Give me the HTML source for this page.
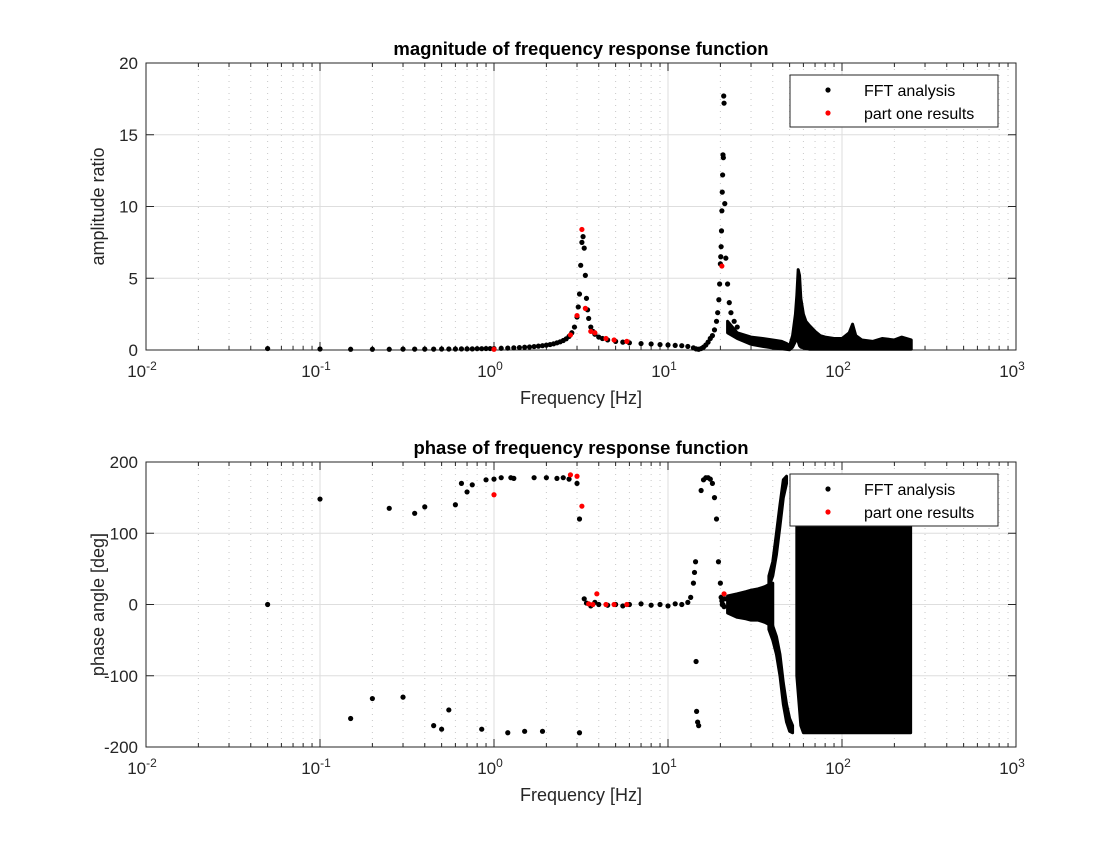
<!DOCTYPE html>
<html><head><meta charset="utf-8"><style>
body{margin:0;background:#fff;width:1120px;height:840px;overflow:hidden;font-family:"Liberation Sans",sans-serif}
svg text{font-family:"Liberation Sans",sans-serif}
</style></head><body>
<svg id="c" width="1120" height="840"></svg>
<script>
// ---- data ----
const magFftFreq=[0.05,0.1,0.15,0.2,0.25,0.3,0.35,0.4,0.45,0.5,0.55,0.6,0.65,0.7,0.75,0.8,0.85,0.9,0.95,1.0,1.1,1.2,1.3,1.4,1.5,1.6,1.7,1.8,1.9,2.0,2.1,2.2,2.3,2.4,2.5,2.6,2.7,2.8,2.9,3.0,3.05,3.1,3.15,3.2,3.25,3.3,3.35,3.4,3.45,3.5,3.6,3.7,3.8,4.0,4.2,4.5,5,5.5,6,7,8,9,10,11,12,13,14,14.5,15,15.5,16,16.5,17,17.5,18,18.5,19,19.3,19.6,19.8,20,20.1,20.2,20.3,20.4,20.5,20.6,20.7,20.8,20.9,21,21.2,21.5,22,22.5,23,24,25];
const magFftVal=[0.1,0.07,0.05,0.05,0.05,0.06,0.06,0.06,0.06,0.07,0.07,0.07,0.08,0.08,0.08,0.09,0.09,0.1,0.1,0.1,0.12,0.13,0.15,0.17,0.19,0.21,0.24,0.27,0.3,0.34,0.38,0.43,0.5,0.57,0.66,0.78,0.95,1.2,1.6,2.3,3.0,3.9,5.9,7.5,7.9,7.1,5.2,3.6,2.8,2.2,1.6,1.3,1.1,0.9,0.8,0.7,0.6,0.55,0.5,0.45,0.42,0.38,0.35,0.32,0.3,0.25,0.15,0.08,0.05,0.1,0.2,0.35,0.55,0.8,1.0,1.4,2.0,2.6,3.5,4.6,6.0,6.5,7.2,8.3,9.7,11,12.2,13.6,13.4,17.7,17.2,10.2,6.4,4.6,3.3,2.6,2.0,1.6];
const magRedFreq=[1.0,2.75,3.0,3.2,3.35,3.6,3.8,4.4,4.9,5.8,20.4];
const magRedVal=[0.05,1.05,2.4,8.4,2.9,1.3,1.2,0.8,0.7,0.6,5.85];
// noisy-region envelope (magnitude)
const magBandFreq=[22,25,30,35,40,45,48,50,52,54,55,56,57,58,60,62,65,70,75,80,90,100,110,115,120,130,150,170,200,220,250];
const magBandLow=[1.2,0.8,0.4,0.25,0.15,0.08,0.04,0.02,0.2,0.6,0.9,0.6,0.3,0.2,0.15,0.1,0.05,0.05,0.05,0.05,0.05,0.05,0.05,0.05,0.05,0.05,0.05,0.05,0.05,0.05,0.05];
const magBandHigh=[2.0,1.2,0.9,0.8,0.7,0.6,0.45,0.3,1.0,2.5,3.8,5.6,5.2,3.6,2.5,2.0,1.7,1.3,1.0,0.9,0.8,0.8,1.2,1.8,1.0,0.7,0.6,0.8,0.7,0.9,0.7];
const phFftFreq=[0.05,0.1,0.15,0.2,0.25,0.3,0.35,0.4,0.45,0.5,0.55,0.6,0.65,0.7,0.75,0.85,0.9,1.0,1.1,1.2,1.25,1.3,1.5,1.7,1.9,2.0,2.3,2.5,2.7,3.0,3.1,3.1,3.3,3.4,3.6,3.8,4,4.5,5,5.5,6,7,8,9,10,11,12,13,13.5,14,14.2,14.4,14.5,14.6,14.8,15,15.5,16,16.5,17,17.5,18,18.5,19,19.5,20,20.2,20.4,20.5,20.7,21,21.3];
const phFftVal=[0,148,-160,-132,135,-130,128,137,-170,-175,-148,140,170,158,168,-175,175,176,178,-180,178,177,-178,178,-178,178,177,178,176,170,-180,120,8,2,-2,3,0,-1,0,-2,0,1,-1,0,-2,1,0,3,10,30,45,60,-80,-150,-165,-170,160,175,178,178,176,170,150,120,60,30,10,5,0,0,-3,8];
const phRedFreq=[1.0,2.75,3.0,3.2,3.5,3.7,3.9,4.4,4.9,5.8,21];
const phRedVal=[154,182,180,138,1,0,15,0,0,0,15];
// noisy-region envelopes (phase)
const phBandFreq=[22,25,28,30,33,36,38,40];
const phBandLow=[-12,-18,-20,-22,-22,-25,-28,-30];
const phBandHigh=[12,15,18,20,22,25,28,30];
const phUpFreq=[38,40,42,44,46,48];
const phUpLow=[25,40,70,110,150,170];
const phUpHigh=[40,60,100,140,175,180];
const phDnFreq=[38,40,42,44,46,48,50,52];
const phDnLow=[-35,-50,-70,-100,-140,-165,-178,-180];
const phDnHigh=[-22,-30,-45,-70,-110,-140,-160,-170];
const phBlockFreq=[55,58,60,70,80,100,130,160,200,230,248];
const phBlockLow=[-100,-170,-180,-180,-180,-180,-180,-180,-180,-180,-180];
const phBlockHigh=[120,170,180,180,180,180,180,180,180,180,180];

const NS='http://www.w3.org/2000/svg';
const svg=document.getElementById('c');
function el(t,a,p){const e=document.createElementNS(NS,t);for(const k in a)e.setAttribute(k,a[k]);(p||svg).appendChild(e);return e;}
const X0=146,X1=1016;
const xs=f=>X0+(Math.log10(f)+2)*(X1-X0)/5;

function axes(top,bot,ymin,ymax,yticks,title,ylab,name){
  const ys=v=>bot-(v-ymin)*(bot-top)/(ymax-ymin);
  const g=el('g',{});
  
  
  el('rect',{x:X0,y:top,width:X1-X0,height:bot-top,fill:'#fff'},g);
  for(let d=-2;d<3;d++)for(let m=2;m<10;m++){const x=xs(m*Math.pow(10,d));
    el('line',{x1:x,x2:x,y1:top,y2:bot,stroke:'#c8c8c8','stroke-width':1,'stroke-dasharray':'1,5'},g);
    el('line',{x1:x,x2:x,y1:bot,y2:bot-4,stroke:'#262626'},g);el('line',{x1:x,x2:x,y1:top,y2:top+4,stroke:'#262626'},g);}
  for(let d=-2;d<=3;d++){const x=xs(Math.pow(10,d));
    el('line',{x1:x,x2:x,y1:top,y2:bot,stroke:'#dedede'},g);
    el('line',{x1:x,x2:x,y1:bot,y2:bot-8,stroke:'#262626'},g);el('line',{x1:x,x2:x,y1:top,y2:top+8,stroke:'#262626'},g);
    const t=el('text',{x:x-4,y:bot+27,'font-size':17,fill:'#262626','text-anchor':'middle'},g);t.textContent='10';
    const s=el('tspan',{dy:-7,'font-size':12},t);s.textContent=d;}
  yticks.forEach(v=>{const y=ys(v);
    el('line',{x1:X0,x2:X1,y1:y,y2:y,stroke:'#dedede'},g);
    el('line',{x1:X0,x2:X0+8,y1:y,y2:y,stroke:'#262626'},g);el('line',{x1:X1,x2:X1-8,y1:y,y2:y,stroke:'#262626'},g);
    const t=el('text',{x:X0-8,y:y+6,'font-size':17,fill:'#262626','text-anchor':'end'},g);t.textContent=v;});
  el('rect',{x:X0,y:top,width:X1-X0,height:bot-top,fill:'none',stroke:'#262626','stroke-width':1},g);
  let t=el('text',{x:581,y:top-8,'font-size':18.5,'font-weight':'bold','text-anchor':'middle',fill:'#000'});t.textContent=title;
  
  t=el('text',{x:581,y:bot+54,'font-size':18,'text-anchor':'middle',fill:'#262626'});t.textContent='Frequency [Hz]';
  
  const cy=(top+bot)/2;
  t=el('text',{x:104,y:cy,'font-size':18,'text-anchor':'middle',fill:'#262626',transform:`rotate(-90 104 ${cy})`});t.textContent=ylab;
  
  return ys;
}
function band(fr,lo,hi,ys,name){
  let d='M'+fr.map((f,i)=>xs(f)+','+ys(hi[i])).join('L')+'L'+fr.slice().reverse().map((f,i)=>xs(f)+','+ys(lo[lo.length-1-i])).join('L')+'Z';
  const p=el('path',{d:d,fill:'#000',stroke:'#000','stroke-width':3,'stroke-linejoin':'round'});
  
}
function pts(fr,vals,ys,col,name){
  fr.forEach((f,i)=>{const c=el('circle',{cx:xs(f),cy:ys(vals[i]),r:2.6,fill:col});
    });
}
function legend(top,name){
  const g=el('g',{});
  el('rect',{x:790,y:top,width:208,height:52,fill:'#fff',stroke:'#262626'},g);
  el('circle',{cx:828,cy:top+15,r:2.6,fill:'#000'},g);
  el('circle',{cx:828,cy:top+38,r:2.6,fill:'#f00'},g);
  let t=el('text',{x:864,y:top+21,'font-size':16,fill:'#000'},g);t.textContent='FFT analysis';
  t=el('text',{x:864,y:top+44,'font-size':16,fill:'#000'},g);t.textContent='part one results';
}
const ys1=axes(63,350,0,20,[0,5,10,15,20],'magnitude of frequency response function','amplitude ratio','magnitude-plot');
band(magBandFreq,magBandLow,magBandHigh,ys1,'magnitude-fft-noise-band');
pts(magFftFreq,magFftVal,ys1,'#000','magnitude-fft-point');
pts(magRedFreq,magRedVal,ys1,'#f00','magnitude-part-one-point');
legend(75,'magnitude-legend');
const ys2=axes(462,747,-200,200,[-200,-100,0,100,200],'phase of frequency response function','phase angle [deg]','phase-plot');
band(phBandFreq,phBandLow,phBandHigh,ys2,'phase-fft-noise-band');
band(phUpFreq,phUpLow,phUpHigh,ys2,'phase-fft-upper-strand');
band(phDnFreq,phDnLow,phDnHigh,ys2,'phase-fft-lower-strand');
band(phBlockFreq,phBlockLow,phBlockHigh,ys2,'phase-fft-noise-block');
pts(phFftFreq,phFftVal,ys2,'#000','phase-fft-point');
pts(phRedFreq,phRedVal,ys2,'#f00','phase-part-one-point');
legend(474,'phase-legend');
</script>
</body></html>
